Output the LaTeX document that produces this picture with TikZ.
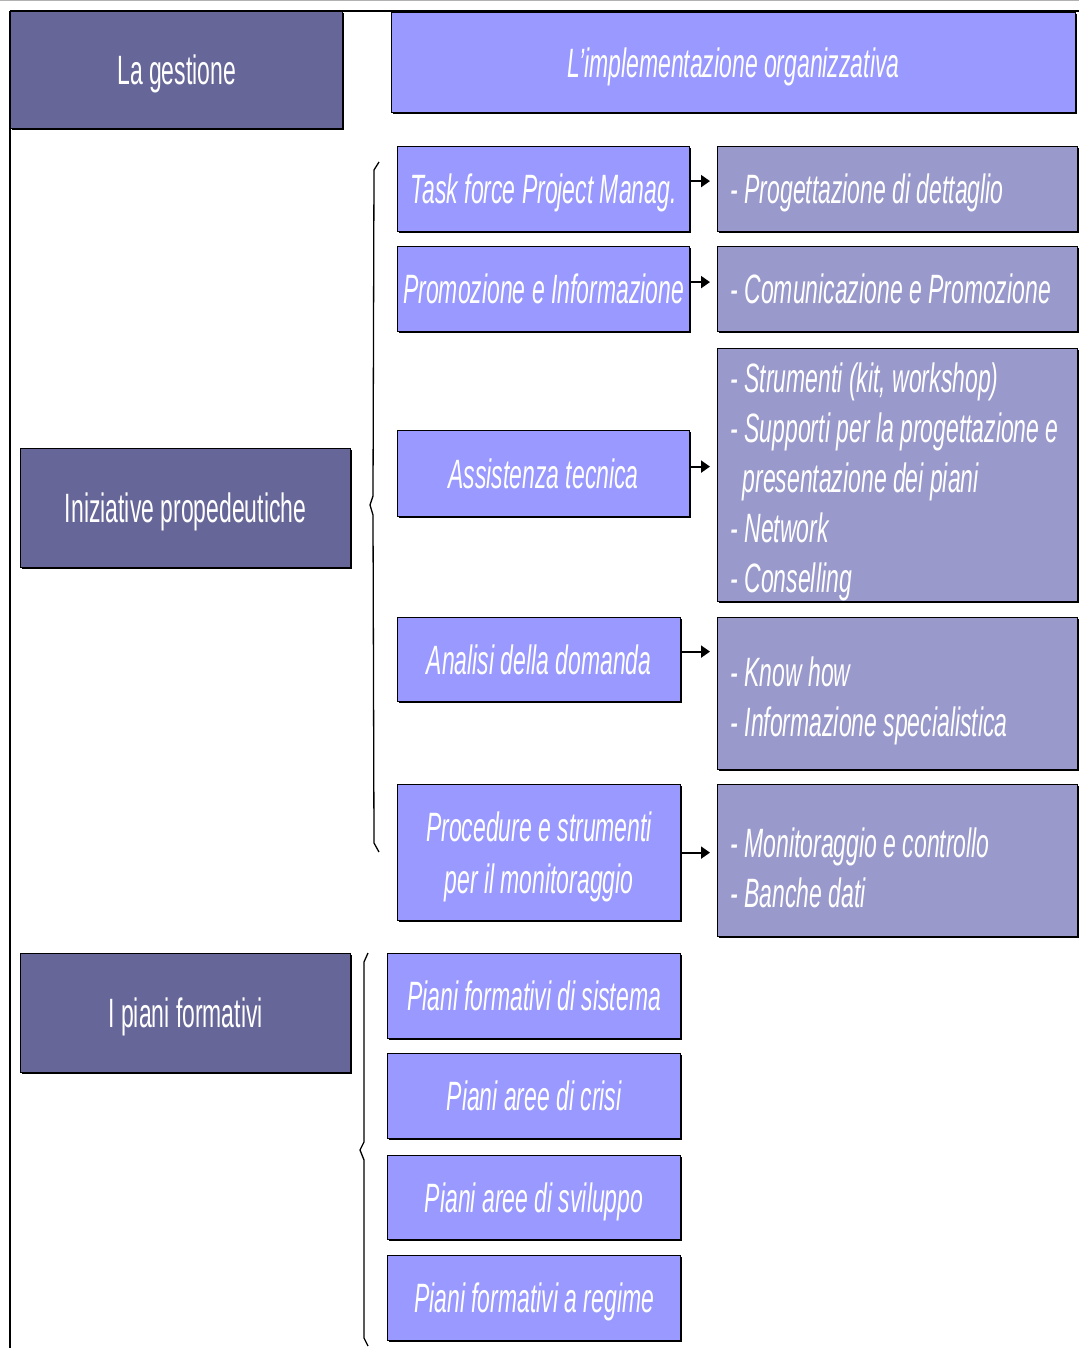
\documentclass[tikz,border=0pt]{standalone}
\usepackage{fontspec}
\setmainfont{Liberation Sans}[FakeStretch=0.56]
\usetikzlibrary{shadows,arrows.meta}
\definecolor{darkbox}{HTML}{666699}
\definecolor{lightbox}{HTML}{9999FF}
\definecolor{sidebox}{HTML}{9999CC}
\newcommand{\fsz}{\fontsize{41}{50}\selectfont}
\tikzset{
  base/.style={draw=black, line width=1.2pt, inner sep=0pt, anchor=north west, text=white,
    drop shadow={shadow xshift=1.8pt, shadow yshift=-1.8pt, opacity=1, fill=black}},
  darkbox/.style={base, text depth=0pt, fill=darkbox, font=\fsz},
  midbox/.style={base, text depth=0pt, fill=lightbox, font=\fsz\itshape, align=center},
  sidecommon/.style={base, fill=sidebox, font=\fsz\itshape, align=flush left, inner xsep=13pt, text width=334pt},
  sidebx/.style={sidecommon, execute at begin node={\rule{0pt}{44pt}}},
  sideone/.style={sidecommon, text depth=0pt},
  arr/.style={line width=2pt, -{Triangle[length=9pt,width=12pt]}, shorten >=7pt},
  brace/.style={line width=1.3pt, line join=round},
}
\begin{document}
\begin{tikzpicture}[x=1pt,y=-1pt]
\useasboundingbox (0,0) rectangle (1079,1348);
% frame lines
\draw[gray!60, line width=1pt] (0,0.5) -- (1079,0.5);
\draw[line width=1.5pt] (10,11) -- (1079,11);
\draw[line width=1.5pt] (10,11) -- (10,1348);
% header boxes
\node[darkbox, minimum width=332pt, minimum height=117pt] (gest) at (10,11) {La gestione};
\node[midbox, minimum width=684pt, minimum height=100pt] (impl) at (391,12) {L'implementazione organizzativa};
% left categories
\node[darkbox, minimum width=330pt, minimum height=119pt] (iniz) at (20,448) {Iniziative propedeutiche};
\node[darkbox, minimum width=330pt, minimum height=119pt] (piani) at (20,953) {I piani formativi};
% middle boxes
\node[midbox, minimum width=292pt, minimum height=85pt] (task) at (397,146) {Task force Project Manag.};
\node[midbox, minimum width=292pt, minimum height=85pt] (prom) at (397,246) {Promozione e Informazione};
\node[midbox, minimum width=292pt, minimum height=86pt] (assi) at (397,430) {Assistenza tecnica};
\node[midbox, minimum width=283pt, minimum height=84pt] (anal) at (397,617) {Analisi della domanda};
\node[midbox, minimum width=283pt, minimum height=136pt] (proc) at (397,784) {Procedure e strumenti\\[2pt]per il monitoraggio};
\node[midbox, minimum width=293pt, minimum height=85pt] (pfs) at (387,953) {Piani formativi di sistema};
\node[midbox, minimum width=293pt, minimum height=85pt] (pac) at (387,1053) {Piani aree di crisi};
\node[midbox, minimum width=293pt, minimum height=84pt] (pas) at (387,1155) {Piani aree di sviluppo};
\node[midbox, minimum width=293pt, minimum height=85pt] (pfr) at (387,1255) {Piani formativi a regime};
% side boxes
\node[sideone, minimum height=85pt] (prog) at (717,146) {- Progettazione di dettaglio};
\node[sideone, minimum height=85pt] (comu) at (717,246) {- Comunicazione e Promozione};
\node[sidebx, minimum height=253pt] (stru) at (717,348) {- Strumenti (kit, workshop)\\- Supporti per la progettazione e\\\hspace*{12pt}presentazione dei piani\\- Network\\- Conselling};
\node[sidebx, minimum height=152pt] (know) at (717,617) {- Know how\\- Informazione specialistica};
\node[sidebx, minimum height=152pt] (moni) at (717,784) {- Monitoraggio e controllo\\- Banche dati};
% arrows
\draw[arr] ([yshift=8pt]task.east) -- ([yshift=8pt]task.east -| prog.west);
\draw[arr] ([yshift=7pt]prom.east) -- ([yshift=7pt]prom.east -| comu.west);
\draw[arr] ([yshift=7pt]assi.east) -- ([yshift=7pt]assi.east -| stru.west);
\draw[arr] ([yshift=8pt]anal.east) -- ([yshift=8pt]anal.east -| know.west);
\draw[arr] (proc.east) -- (proc.east -| moni.west);
% braces
\draw[brace] (379,162) -- (374,170) -- (373,496) -- (370,505) -- (373,515) -- (374,843) -- (379,852);
\draw[brace] (368,953) -- (364,962) -- (364,1142) -- (360,1150) -- (364,1160) -- (364,1338) -- (368,1346);
\end{tikzpicture}
\end{document}
